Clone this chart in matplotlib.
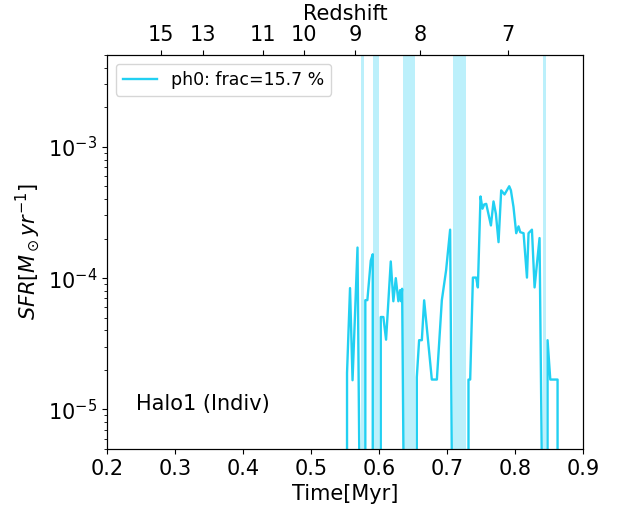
import matplotlib
matplotlib.use('Agg')
import matplotlib.pyplot as plt
import numpy as np

# SFR history of halo 1 (time in the units of the axis label, SFR in Msun/yr)
time = [0.5500, 0.5530, 0.5574, 0.5611, 0.5684, 0.5721, 0.5780,
        0.5799, 0.5829, 0.5879, 0.5908, 0.5925, 0.6005,
        0.6026, 0.6064, 0.6104, 0.6173, 0.6211, 0.6247, 0.6285, 0.6310, 0.6325, 0.6340, 0.6370,
        0.6540, 0.6556, 0.6590, 0.6630, 0.6664, 0.6777, 0.6851, 0.6924, 0.6987, 0.7046, 0.7080,
        0.7300, 0.7316, 0.7341, 0.7381, 0.7429, 0.7454, 0.7493, 0.7522, 0.7547, 0.7577,
        0.7646, 0.7684, 0.7719, 0.7758, 0.7797, 0.7846, 0.7915, 0.7940, 0.7978, 0.8018,
        0.8052, 0.8077, 0.8126, 0.8176, 0.8199, 0.8249, 0.8288, 0.8361, 0.8406,
        0.8460, 0.8479, 0.8519, 0.8626, 0.8650]
sfr = [0, 1.9e-5, 8.4e-5, 1.67e-5, 1.71e-4, 1e-6, 0,
       6.8e-5, 6.8e-5, 1.36e-4, 1.52e-4, 0, 0,
       5.06e-5, 5.06e-5, 3.4e-5, 1.34e-4, 6.67e-5, 1.0e-4, 6.67e-5, 8.1e-5, 6.67e-5, 8.3e-5, 1e-6,
       0, 1.76e-5, 3.37e-5, 3.37e-5, 6.78e-5, 1.69e-5, 1.69e-5, 6.78e-5, 1.15e-4, 2.34e-4, 1e-6,
       0, 1.69e-5, 1.69e-5, 1.01e-4, 1.01e-4, 8.5e-5, 4.19e-4, 3.38e-4, 3.64e-4, 3.68e-4,
       2.52e-4, 3.84e-4, 3.09e-4, 1.88e-4, 4.66e-4, 4.34e-4, 5.01e-4, 4.66e-4, 3.48e-4, 2.2e-4,
       2.48e-4, 2.24e-4, 2.2e-4, 1.01e-4, 2.2e-4, 2.34e-4, 8.5e-5, 2.02e-4, 1e-6,
       0, 3.37e-5, 1.69e-5, 1.69e-5, 0]

# shaded intervals
span_start = [0.5732, 0.5909, 0.6359, 0.7081, 0.8406]
span_end = [0.5781, 0.6001, 0.6532, 0.7283, 0.8456]

# redshift axis
z_labels = ['15', '13', '11', '10', '9', '8', '7']
z_times = [0.2787, 0.3405, 0.4289, 0.4892, 0.5648, 0.6610, 0.7891]

lineColor = '#22d0f2'

fig = plt.figure(figsize=(6.21, 5.11), dpi=100)
ax = fig.add_axes([0.1723, 0.1213, 0.7665, 0.7710])

ax.plot(time, sfr, color=lineColor, lw=1.7, label='ph0: frac=15.7 %')
for s, e in zip(span_start, span_end):
    ax.axvspan(s, e, color=lineColor, alpha=0.3, lw=0)

ax.set_yscale('log')
ax.set_xlim(0.2, 0.9)
ax.set_ylim(5e-6, 5e-3)
ax.set_xlabel('Time[Myr]', fontsize=15)
ax.set_ylabel(r'$SFR[M_\odot yr^{-1}]$', fontsize=15)
ax.tick_params(labelsize=15)
ax.legend(loc='upper left', fontsize=12.5)
ax.text(0.06, 0.115, 'Halo1 (Indiv)', transform=ax.transAxes, fontsize=15, va='center')

ax2 = ax.twiny()
ax2.set_xlim(ax.get_xlim())
ax2.set_xticks(z_times)
ax2.set_xticklabels(z_labels)
ax2.tick_params(labelsize=15)
ax2.set_xlabel('Redshift', fontsize=15)

fig.savefig('out.png', dpi=100)
